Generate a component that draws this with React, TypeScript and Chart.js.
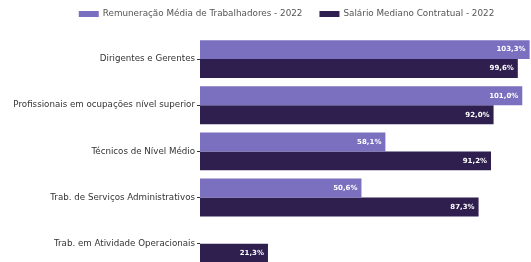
import React, { useEffect, useRef } from "react";
import { Chart, registerables } from "chart.js";

Chart.register(...registerables);

const categories = [
  "Dirigentes e Gerentes",
  "Profissionais em ocupações nível superior",
  "Técnicos de Nível Médio",
  "Trab. de Serviços Administrativos",
  "Trab. em Atividade Operacionais",
];
const seriesNames = ["Remuneração Média de Trabalhadores - 2022", "Salário Mediano Contratual - 2022"];
const remuneracao: (number | null)[] = [103.3, 101.0, 58.1, 50.6, null];
const salario: (number | null)[] = [99.6, 92.0, 91.2, 87.3, 21.3];
const colors = ["#7B6FBF", "#2E1F4E"];

const fmt = (v: number) => v.toFixed(1).replace(".", ",") + "%";

const labelPlugin = {
  id: "barLabels",
  afterDatasetsDraw(chart: any) {
    const ctx = chart.ctx;
    ctx.save();
    ctx.font = "bold 7px 'DejaVu Sans'";
    ctx.fillStyle = "#FFFFFF";
    ctx.textAlign = "right";
    ctx.textBaseline = "middle";
    chart.data.datasets.forEach((ds: any, i: number) => {
      const meta = chart.getDatasetMeta(i);
      meta.data.forEach((bar: any, j: number) => {
        const v = ds.data[j];
        if (v === null || v === undefined) return;
        ctx.fillText(fmt(v), bar.x - 4, bar.y);
      });
    });
    ctx.restore();
  },
};

const legendPlugin = {
  id: "customLegend",
  afterDraw(chart: any) {
    const ctx = chart.ctx;
    ctx.save();
    ctx.font = "8.8px 'DejaVu Sans'";
    ctx.textBaseline = "middle";
    ctx.textAlign = "left";
    const boxW = 20;
    const boxH = 6;
    const gap = 4;
    const itemGap = 17;
    const widths = seriesNames.map((s) => ctx.measureText(s).width);
    const total = widths.reduce((a, w) => a + boxW + gap + w, 0) + itemGap * (seriesNames.length - 1);
    let x = chart.width / 2 - total / 2;
    const y = 14;
    seriesNames.forEach((s, i) => {
      ctx.fillStyle = colors[i];
      ctx.fillRect(x, y - boxH / 2, boxW, boxH);
      x += boxW + gap;
      ctx.fillStyle = "#555555";
      ctx.fillText(s, x, y);
      x += widths[i] + itemGap;
    });
    ctx.restore();
  },
};

export default function App() {
  const ref = useRef<HTMLCanvasElement>(null);
  useEffect(() => {
    if (!ref.current) return;
    const chart = new Chart(ref.current, {
      type: "bar",
      data: {
        labels: categories,
        datasets: [
          { label: seriesNames[0], data: remuneracao, backgroundColor: colors[0], borderColor: colors[0] },
          { label: seriesNames[1], data: salario, backgroundColor: colors[1], borderColor: colors[1] },
        ],
      },
      plugins: [labelPlugin, legendPlugin],
      options: {
        indexAxis: "y",
        animation: false,
        responsive: false,
        maintainAspectRatio: false,
        datasets: { bar: { categoryPercentage: 0.82, barPercentage: 1.0 } },
        layout: { padding: { left: 0, right: 22, top: 36, bottom: 0 } },
        plugins: {
          tooltip: { enabled: false },
          legend: { display: false },
        },
        scales: {
          x: { display: false, min: 0, max: 110 },
          y: {
            afterFit: (scale: any) => {
              scale.width = 200;
            },
            border: { display: false },
            grid: { offset: false, drawOnChartArea: false, drawTicks: true, tickLength: 3, color: "#333333" },
            ticks: { color: "#333333", font: { family: "'DejaVu Sans'", size: 8.7 }, padding: 2 },
          },
        },
      },
    });
    return () => chart.destroy();
  }, []);
  return (
    <div style={{ position: "fixed", left: 0, top: 0, width: 531, height: 262, overflow: "hidden", background: "#fff" }}>
      <canvas ref={ref} width={573} height={274} style={{ display: "block" }} />
    </div>
  );
}
